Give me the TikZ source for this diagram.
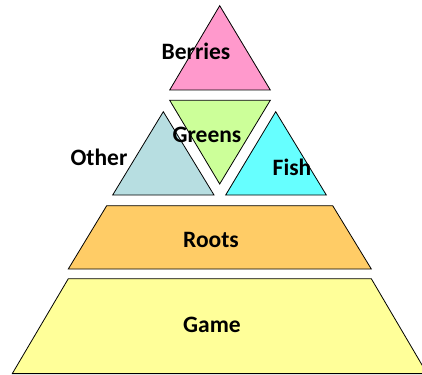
\documentclass[tikz,border=0pt]{standalone}
\usepackage{fontspec}
\setmainfont{Carlito}
\definecolor{berrypink}{HTML}{FF99CC}
\definecolor{greengreen}{HTML}{CCFF99}
\definecolor{otherblue}{HTML}{B7DEE1}
\definecolor{fishcyan}{HTML}{66FFFF}
\definecolor{rootorange}{HTML}{FFCC66}
\definecolor{gameyellow}{HTML}{FFFF99}
\tikzset{
  layer/.style={draw=black,line width=0.8pt,line join=miter},
  lbl/.style={font=\bfseries\fontsize{23.5}{27}\selectfont,inner sep=0pt}
}

\begin{document}
\begin{tikzpicture}[x=1pt,y=-1pt]
  \useasboundingbox (0,0) rectangle (422,374);
  \clip (0,0) rectangle (422,374);
  % shapes
  \draw[layer,fill=gameyellow] (68.3,278.7) -- (371.3,278.7) -- (427.1,373.6) -- (12.3,373.6) -- cycle;
  \draw[layer,fill=rootorange] (106.7,205.7) -- (332.7,205.7) -- (371.3,269) -- (68.3,269) -- cycle;
  \draw[layer,fill=otherblue] (163.3,111.7) -- (214,195) -- (112.7,195) -- cycle;
  \draw[layer,fill=fishcyan] (275.7,111.7) -- (326.3,195) -- (225.7,195) -- cycle;
  \draw[layer,fill=greengreen] (169.7,100.3) -- (270.3,100.3) -- (219.7,184) -- cycle;
  \draw[layer,fill=berrypink] (219.7,5.7) -- (270.3,90) -- (169.7,90) -- cycle;
  % labels
  \node[lbl] (berries) at (196,51) {Berries};
  \node[lbl] (greens) at (207,135) {Greens};
  \node[lbl] (other) at (99,157) {Other};
  \node[lbl] (fish) at (292,167) {Fish};
  \node[lbl] (roots) at (211,240) {Roots};
  \node[lbl] (game) at (212,325) {Game};
\end{tikzpicture}
\end{document}
